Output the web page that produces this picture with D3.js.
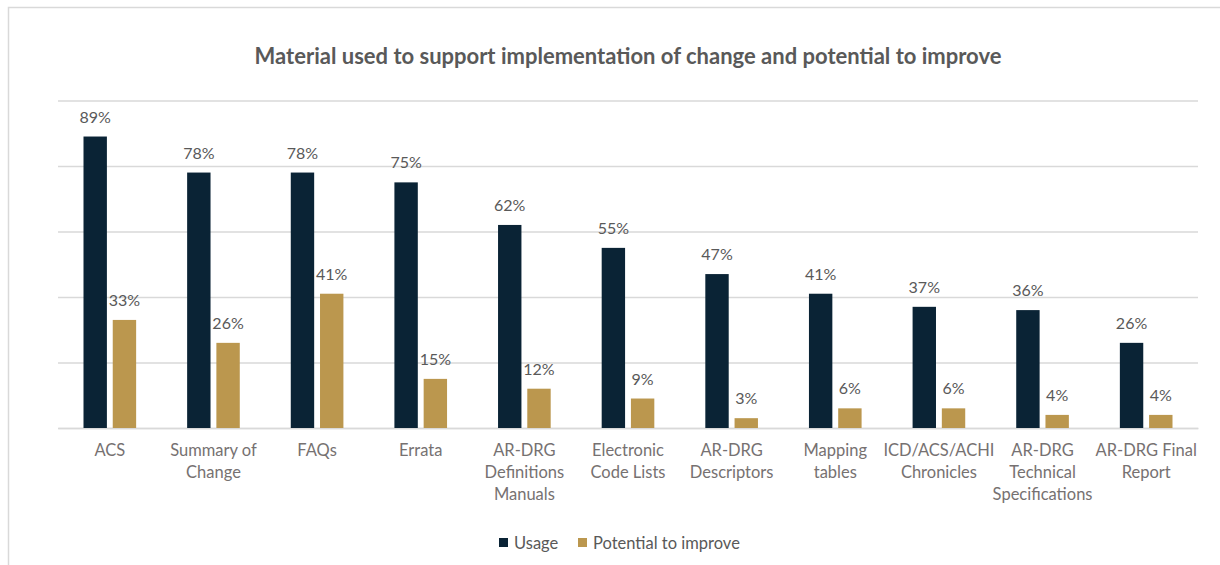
<!DOCTYPE html>
<html>
<head>
<meta charset="utf-8">
<script src="https://cdn.jsdelivr.net/npm/d3@7"></script>
<style>
  html, body { margin: 0; padding: 0; background: #fff; }
  svg { display: block; }
</style>
</head>
<body>
<svg id="chart" width="1220" height="565"></svg>
<script>
// Survey results: share of respondents using each material, and share seeing room to improve it
const categories = [
  ["ACS"],
  ["Summary of", "Change"],
  ["FAQs"],
  ["Errata"],
  ["AR-DRG", "Definitions", "Manuals"],
  ["Electronic", "Code Lists"],
  ["AR-DRG", "Descriptors"],
  ["Mapping", "tables"],
  ["ICD/ACS/ACHI", "Chronicles"],
  ["AR-DRG", "Technical", "Specifications"],
  ["AR-DRG Final", "Report"]
];
const usage = [89, 78, 78, 75, 62, 55, 47, 41, 37, 36, 26];
const potential = [33, 26, 41, 15, 12, 9, 3, 6, 6, 4, 4];
const seriesNames = ["Usage", "Potential to improve"];
const yTicks = [0, 20, 40, 60, 80, 100];

const colors = ["#0A2335", "#BB974E"];
const textColor = "#595959";
const font = "Lato, 'Open Sans', sans-serif";

const svg = d3.select("#chart");
const W = 1220, H = 565;
const margin = { left: 58, right: 22, top: 100.5, bottom: 137 };
const plotW = W - margin.left - margin.right;
const plotH = H - margin.top - margin.bottom;

// outer frame (only top and left edges fall inside the view)
svg.append("path")
  .attr("d", `M8.5,${H} L8.5,7.5 L${W},7.5`)
  .attr("fill", "none")
  .attr("stroke", "#d9d9d9")
  .attr("stroke-width", 1.5);

const g = svg.append("g").attr("transform", `translate(${margin.left},${margin.top})`);

const keys = categories.map((c, i) => i);
const x = d3.scaleBand().domain(keys).range([0, plotW]).paddingInner(0).paddingOuter(0);
const x1 = d3.scaleBand().domain([0, 1]).range([25.5, x.bandwidth() - 25.5]).paddingInner(0.2);
const y = d3.scaleLinear().domain([0, 100]).range([plotH, 0]);

// horizontal gridlines
g.append("g")
  .call(d3.axisLeft(y).tickValues(yTicks).tickSize(-plotW).tickFormat(""))
  .call(a => a.select(".domain").remove())
  .call(a => a.selectAll("line").attr("stroke", "#d9d9d9").attr("stroke-width", 1.3));

// category axis with wrapped labels
const xAxis = g.append("g")
  .attr("transform", `translate(0,${plotH})`)
  .call(d3.axisBottom(x).tickSize(0).tickFormat(""));
xAxis.select(".domain").attr("stroke", "#d9d9d9").attr("stroke-width", 1.5);
xAxis.selectAll(".tick").each(function (d) {
  const t = d3.select(this).append("text")
    .attr("fill", "#767171")
    .attr("font-family", font)
    .attr("font-size", 16.5)
    .attr("text-anchor", "middle")
    .attr("y", 28);
  categories[d].forEach((line, j) => {
    t.append("tspan").attr("x", 0).attr("dy", j === 0 ? 0 : 22).text(line);
  });
});

// bars
const series = [usage, potential];
const groups = g.selectAll("g.cat")
  .data(keys)
  .join("g")
  .attr("class", "cat")
  .attr("transform", d => `translate(${x(d)},0)`);

groups.selectAll("rect")
  .data(d => series.map((s, k) => ({ k, v: s[d] })))
  .join("rect")
  .attr("x", d => x1(d.k))
  .attr("width", x1.bandwidth())
  .attr("y", d => y(d.v))
  .attr("height", d => plotH - y(d.v))
  .attr("fill", d => colors[d.k]);

groups.selectAll("text.val")
  .data(d => series.map((s, k) => ({ k, v: s[d] })))
  .join("text")
  .attr("class", "val")
  .attr("x", d => x1(d.k) + x1.bandwidth() / 2)
  .attr("y", d => y(d.v) - 14)
  .attr("text-anchor", "middle")
  .attr("font-family", font)
  .attr("font-size", 16)
  .attr("fill", textColor)
  .text(d => d.v + "%");

// title
svg.append("text")
  .attr("x", margin.left + plotW / 2)
  .attr("y", 64)
  .attr("text-anchor", "middle")
  .attr("font-family", font)
  .attr("font-weight", "bold")
  .attr("font-size", 22)
  .attr("fill", textColor)
  .text("Material used to support implementation of change and potential to improve");

// legend
const legend = svg.append("g").attr("transform", "translate(499,538)");
const legendX = [0, 79];
seriesNames.forEach((name, k) => {
  const it = legend.append("g").attr("transform", `translate(${legendX[k]},0)`);
  it.append("rect").attr("width", 9).attr("height", 9).attr("fill", colors[k]);
  it.append("text")
    .attr("x", 15)
    .attr("y", 10.5)
    .attr("font-family", font)
    .attr("font-size", 16.5)
    .attr("fill", textColor)
    .text(name);
});
</script>
</body>
</html>
